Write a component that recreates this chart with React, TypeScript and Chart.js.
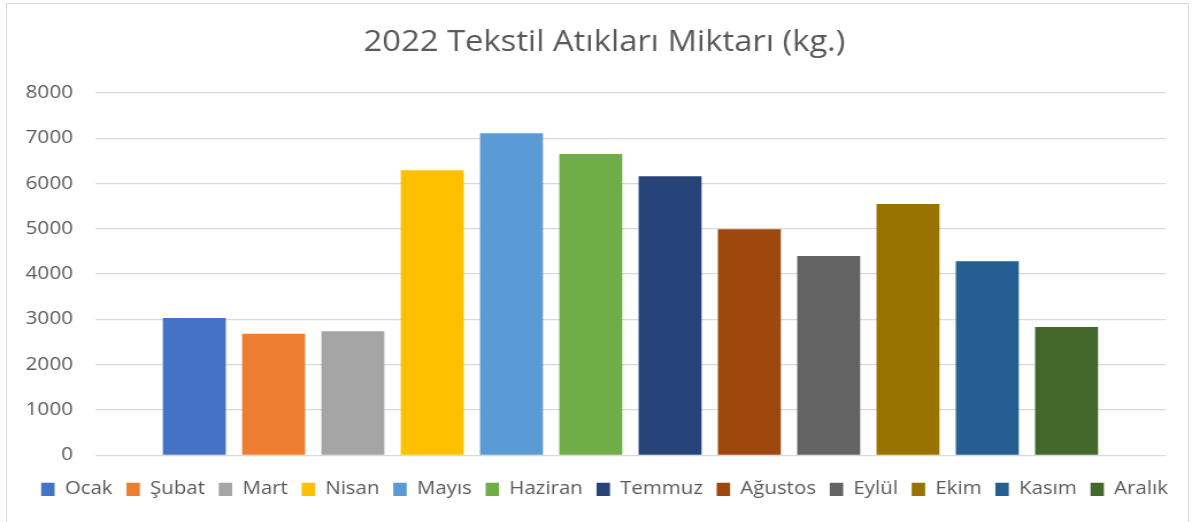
import React, { useEffect, useRef } from "react";
import { Chart, registerables } from "chart.js";

Chart.register(...registerables);

const TITLE = "2022 Tekstil Atıkları Miktarı (kg.)";
const categories = ["2022"];
const months = ["Ocak", "Şubat", "Mart", "Nisan", "Mayıs", "Haziran", "Temmuz", "Ağustos", "Eylül", "Ekim", "Kasım", "Aralık"];
const values = [3030, 2680, 2740, 6290, 7110, 6650, 6160, 4990, 4400, 5545, 4285, 2830];
const colors = ["#4472C4", "#ED7D31", "#A5A5A5", "#FFC000", "#5B9BD5", "#70AD47", "#264478", "#9E480E", "#636363", "#997300", "#255E91", "#43682B"];
const yTicks = [0, 1000, 2000, 3000, 4000, 5000, 6000, 7000, 8000];

const FONT = "'Open Sans', 'DejaVu Sans', sans-serif";
const TEXT = "#595959";

// The reference picture is stretched horizontally; draw on a narrower canvas and stretch it with CSS.
const PAGE_W = 1192;
const PAGE_H = 522;
const CANVAS_W = 1037;

export default function App() {
  const ref = useRef<HTMLCanvasElement | null>(null);

  useEffect(() => {
    if (!ref.current) return;
    const chart = new Chart(ref.current, {
      type: "bar",
      data: {
        labels: categories,
        datasets: months.map((m, i) => ({
          label: m,
          data: [values[i]],
          backgroundColor: colors[i],
          borderWidth: 0,
          categoryPercentage: 0.8885,
          barPercentage: 0.794,
          yAxisID: "y",
        })),
      },
      options: {
        responsive: false,
        animation: false,
        devicePixelRatio: 1,
        layout: { padding: { left: 14.8, right: 0, top: 0, bottom: 13.7 } },
        plugins: {
          title: {
            display: true,
            text: TITLE,
            color: TEXT,
            font: { family: FONT, size: 28.5, weight: "normal" },
            padding: { top: 26, bottom: 32.6 },
          },
          legend: {
            display: true,
            position: "bottom",
            labels: {
              color: TEXT,
              font: { family: FONT, size: 17.8 },
              boxWidth: 11.7,
              boxHeight: 13.3,
              padding: 12,
            },
          },
          tooltip: { enabled: false },
        },
        scales: {
          x: {
            display: true,
            ticks: { display: false },
            grid: { display: false },
            border: { display: false },
            afterFit: (scale: any) => {
              scale.height = 13.2;
            },
          },
          y: {
            position: "left",
            min: 0,
            max: 8000,
            afterBuildTicks: (scale: any) => {
              scale.ticks = yTicks.map((v) => ({ value: v }));
            },
            afterFit: (scale: any) => {
              scale.width = 67.8;
            },
            ticks: {
              color: TEXT,
              font: { family: FONT, size: 18 },
              padding: 19.1,
              callback: (v: any) => String(v),
            },
            grid: { color: "#d9d9d9", lineWidth: 1.2, drawTicks: false },
            border: { display: false },
          },
          yRight: {
            type: "linear",
            position: "right",
            display: true,
            ticks: { display: false },
            grid: { display: false },
            border: { display: false },
            afterFit: (scale: any) => {
              scale.width = 22.7;
            },
          },
        },
      },
    });
    return () => chart.destroy();
  }, []);

  return (
    <div style={{ position: "fixed", left: 0, top: 0, width: PAGE_W, height: PAGE_H, background: "#fff", overflow: "hidden" }}>
      <canvas
        ref={ref}
        width={CANVAS_W}
        height={PAGE_H}
        style={{ position: "absolute", left: 0, top: 0, width: PAGE_W + "px", height: PAGE_H + "px" }}
      />
      <div
        style={{
          position: "absolute",
          left: 6,
          top: 3,
          width: 1183,
          height: 540,
          border: "1px solid #d9d9d9",
          boxSizing: "border-box",
          pointerEvents: "none",
        }}
      />
    </div>
  );
}
